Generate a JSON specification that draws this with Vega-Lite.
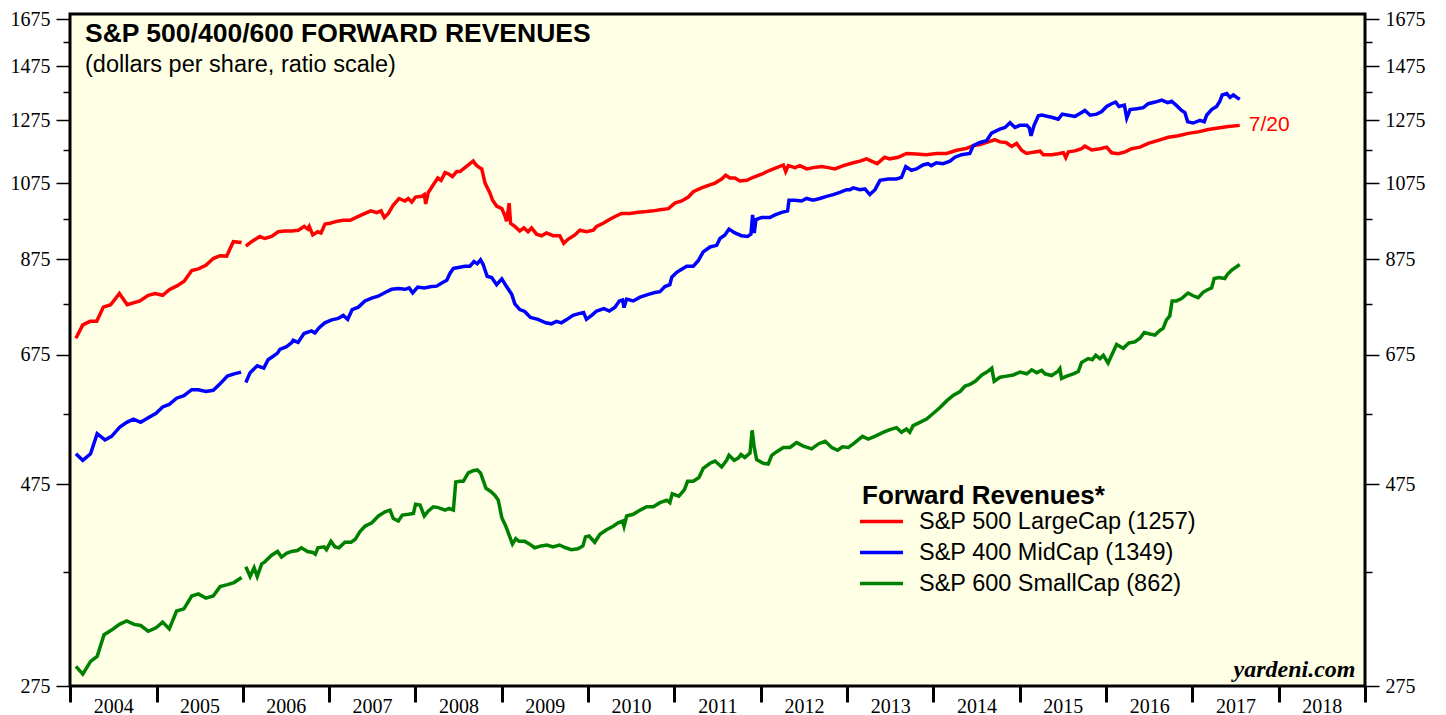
{
  "$schema": "https://vega.github.io/schema/vega-lite/v6.json",
  "width": 1295,
  "height": 672,
  "autosize": {"type": "none"},
  "padding": {"left": 70, "top": 14, "right": 81, "bottom": 29},
  "background": "white",
  "title": {
    "text": "S&P 500/400/600 FORWARD REVENUES",
    "subtitle": "(dollars per share, ratio scale)",
    "anchor": "start", "frame": "group", "orient": "top", "offset": -67, "dx": 15,
    "font": "Liberation Sans", "fontSize": 26.5, "fontWeight": "bold", "color": "black",
    "subtitleFont": "Liberation Sans", "subtitleFontSize": 23.5, "subtitleColor": "black", "subtitlePadding": 5
  },
  "datasets": {
    "revenues": [
      {"date":"2004-01-26","series":"500","value":706},{"date":"2004-02-24","series":"500","value":732},{"date":"2004-03-26","series":"500","value":739},{"date":"2004-04-23","series":"500","value":739},{"date":"2004-05-21","series":"500","value":768},{"date":"2004-06-21","series":"500","value":773},{"date":"2004-07-28","series":"500","value":797},{"date":"2004-08-30","series":"500","value":773},{"date":"2004-10-23","series":"500","value":781},{"date":"2004-11-27","series":"500","value":793},{"date":"2004-12-26","series":"500","value":797},{"date":"2005-01-27","series":"500","value":793},{"date":"2005-02-24","series":"500","value":805},{"date":"2005-03-30","series":"500","value":814},{"date":"2005-04-28","series":"500","value":824},{"date":"2005-05-30","series":"500","value":848},{"date":"2005-06-27","series":"500","value":852},{"date":"2005-07-29","series":"500","value":860},{"date":"2005-08-29","series":"500","value":876},{"date":"2005-09-27","series":"500","value":883},{"date":"2005-10-25","series":"500","value":882},{"date":"2005-11-22","series":"500","value":917},{"date":"2005-12-27","series":"500","value":915},
      {"date":"2006-01-05","series":"500","value":null},
      {"date":"2006-01-14","series":"500","value":906},{"date":"2006-02-07","series":"500","value":917},{"date":"2006-03-14","series":"500","value":930},{"date":"2006-04-04","series":"500","value":925},{"date":"2006-05-03","series":"500","value":930},{"date":"2006-05-31","series":"500","value":942},{"date":"2006-06-29","series":"500","value":944},{"date":"2006-07-27","series":"500","value":944},{"date":"2006-08-24","series":"500","value":946},{"date":"2006-09-18","series":"500","value":956},{"date":"2006-10-03","series":"500","value":949},{"date":"2006-10-09","series":"500","value":956},{"date":"2006-10-24","series":"500","value":934},{"date":"2006-11-14","series":"500","value":942},{"date":"2006-11-28","series":"500","value":939},{"date":"2006-12-15","series":"500","value":962},
      {"date":"2007-01-05","series":"500","value":964},{"date":"2007-02-02","series":"500","value":969},{"date":"2007-03-02","series":"500","value":972},{"date":"2007-03-31","series":"500","value":972},{"date":"2007-05-05","series":"500","value":982},{"date":"2007-06-02","series":"500","value":990},{"date":"2007-06-27","series":"500","value":997},{"date":"2007-07-22","series":"500","value":992},{"date":"2007-08-09","series":"500","value":997},{"date":"2007-08-23","series":"500","value":979},{"date":"2007-09-09","series":"500","value":990},{"date":"2007-09-30","series":"500","value":1013},{"date":"2007-10-24","series":"500","value":1031},{"date":"2007-11-18","series":"500","value":1024},{"date":"2007-12-02","series":"500","value":1031},{"date":"2007-12-17","series":"500","value":1021},
      {"date":"2008-01-02","series":"500","value":1035},{"date":"2008-01-28","series":"500","value":1037},{"date":"2008-02-08","series":"500","value":1042},{"date":"2008-02-14","series":"500","value":1016},{"date":"2008-02-25","series":"500","value":1048},{"date":"2008-03-17","series":"500","value":1070},{"date":"2008-04-05","series":"500","value":1090},{"date":"2008-04-19","series":"500","value":1083},{"date":"2008-05-06","series":"500","value":1106},{"date":"2008-05-23","series":"500","value":1101},{"date":"2008-06-06","series":"500","value":1094},{"date":"2008-06-24","series":"500","value":1109},{"date":"2008-07-08","series":"500","value":1109},{"date":"2008-07-29","series":"500","value":1121},{"date":"2008-08-19","series":"500","value":1133},{"date":"2008-09-02","series":"500","value":1141},{"date":"2008-09-14","series":"500","value":1129},{"date":"2008-09-28","series":"500","value":1121},{"date":"2008-10-08","series":"500","value":1117},{"date":"2008-10-22","series":"500","value":1075},{"date":"2008-11-12","series":"500","value":1046},{"date":"2008-11-23","series":"500","value":1026},{"date":"2008-12-10","series":"500","value":1010},
      {"date":"2009-01-01","series":"500","value":1003},{"date":"2009-01-14","series":"500","value":984},{"date":"2009-01-21","series":"500","value":969},{"date":"2009-02-01","series":"500","value":1018},{"date":"2009-02-07","series":"500","value":964},{"date":"2009-02-25","series":"500","value":956},{"date":"2009-03-18","series":"500","value":944},{"date":"2009-04-04","series":"500","value":952},{"date":"2009-04-22","series":"500","value":942},{"date":"2009-05-07","series":"500","value":952},{"date":"2009-05-28","series":"500","value":936},{"date":"2009-06-18","series":"500","value":932},{"date":"2009-07-09","series":"500","value":939},{"date":"2009-08-06","series":"500","value":932},{"date":"2009-09-03","series":"500","value":932},{"date":"2009-09-20","series":"500","value":913},{"date":"2009-10-08","series":"500","value":923},{"date":"2009-11-06","series":"500","value":934},{"date":"2009-11-27","series":"500","value":946},{"date":"2009-12-25","series":"500","value":942},
      {"date":"2010-01-23","series":"500","value":946},{"date":"2010-02-06","series":"500","value":956},{"date":"2010-03-06","series":"500","value":964},{"date":"2010-03-27","series":"500","value":972},{"date":"2010-04-25","series":"500","value":982},{"date":"2010-05-23","series":"500","value":990},{"date":"2010-06-27","series":"500","value":990},{"date":"2010-08-01","series":"500","value":993},{"date":"2010-09-06","series":"500","value":995},{"date":"2010-10-04","series":"500","value":997},{"date":"2010-11-01","series":"500","value":1000},{"date":"2010-12-07","series":"500","value":1003},
      {"date":"2011-01-03","series":"500","value":1018},{"date":"2011-02-01","series":"500","value":1024},{"date":"2011-03-01","series":"500","value":1035},{"date":"2011-03-22","series":"500","value":1050},{"date":"2011-04-26","series":"500","value":1061},{"date":"2011-05-31","series":"500","value":1070},{"date":"2011-06-22","series":"500","value":1075},{"date":"2011-07-20","series":"500","value":1087},{"date":"2011-08-06","series":"500","value":1098},{"date":"2011-08-24","series":"500","value":1090},{"date":"2011-09-14","series":"500","value":1090},{"date":"2011-10-05","series":"500","value":1081},{"date":"2011-11-03","series":"500","value":1083},{"date":"2011-12-01","series":"500","value":1092},
      {"date":"2012-01-05","series":"500","value":1101},{"date":"2012-02-09","series":"500","value":1113},{"date":"2012-03-09","series":"500","value":1121},{"date":"2012-04-06","series":"500","value":1129},{"date":"2012-04-16","series":"500","value":1109},{"date":"2012-04-27","series":"500","value":1127},{"date":"2012-05-25","series":"500","value":1121},{"date":"2012-06-15","series":"500","value":1127},{"date":"2012-07-14","series":"500","value":1117},{"date":"2012-08-11","series":"500","value":1121},{"date":"2012-09-15","series":"500","value":1124},{"date":"2012-10-13","series":"500","value":1121},{"date":"2012-11-10","series":"500","value":1117},{"date":"2012-12-16","series":"500","value":1127},
      {"date":"2013-01-27","series":"500","value":1136},{"date":"2013-02-24","series":"500","value":1141},{"date":"2013-03-24","series":"500","value":1148},{"date":"2013-04-14","series":"500","value":1141},{"date":"2013-05-08","series":"500","value":1133},{"date":"2013-06-09","series":"500","value":1153},{"date":"2013-06-30","series":"500","value":1148},{"date":"2013-08-05","series":"500","value":1153},{"date":"2013-09-09","series":"500","value":1165},{"date":"2013-10-21","series":"500","value":1163},{"date":"2013-12-02","series":"500","value":1161},
      {"date":"2014-01-14","series":"500","value":1165},{"date":"2014-02-26","series":"500","value":1165},{"date":"2014-04-09","series":"500","value":1175},{"date":"2014-05-21","series":"500","value":1181},{"date":"2014-06-19","series":"500","value":1190},{"date":"2014-07-17","series":"500","value":1193},{"date":"2014-08-21","series":"500","value":1202},{"date":"2014-09-18","series":"500","value":1209},{"date":"2014-10-09","series":"500","value":1202},{"date":"2014-11-04","series":"500","value":1200},{"date":"2014-11-28","series":"500","value":1187},{"date":"2014-12-19","series":"500","value":1197},
      {"date":"2015-01-09","series":"500","value":1175},{"date":"2015-01-30","series":"500","value":1165},{"date":"2015-02-28","series":"500","value":1169},{"date":"2015-03-28","series":"500","value":1172},{"date":"2015-04-11","series":"500","value":1161},{"date":"2015-05-16","series":"500","value":1161},{"date":"2015-06-13","series":"500","value":1164},{"date":"2015-07-05","series":"500","value":1167},{"date":"2015-07-15","series":"500","value":1152},{"date":"2015-07-26","series":"500","value":1170},{"date":"2015-08-23","series":"500","value":1173},{"date":"2015-09-20","series":"500","value":1180},{"date":"2015-10-04","series":"500","value":1188},{"date":"2015-11-02","series":"500","value":1176},{"date":"2015-12-07","series":"500","value":1180},
      {"date":"2016-01-04","series":"500","value":1185},{"date":"2016-01-25","series":"500","value":1167},{"date":"2016-02-22","series":"500","value":1164},{"date":"2016-03-22","series":"500","value":1170},{"date":"2016-04-19","series":"500","value":1180},{"date":"2016-05-24","series":"500","value":1185},{"date":"2016-06-28","series":"500","value":1197},{"date":"2016-08-09","series":"500","value":1207},{"date":"2016-09-21","series":"500","value":1217},{"date":"2016-11-02","series":"500","value":1222},{"date":"2016-12-14","series":"500","value":1230},
      {"date":"2017-01-25","series":"500","value":1235},{"date":"2017-03-09","series":"500","value":1243},{"date":"2017-04-20","series":"500","value":1248},{"date":"2017-06-02","series":"500","value":1253},{"date":"2017-07-20","series":"500","value":1257},

      {"date":"2004-01-26","series":"400","value":516},{"date":"2004-02-24","series":"400","value":507},{"date":"2004-03-28","series":"400","value":516},{"date":"2004-04-25","series":"400","value":545},{"date":"2004-05-28","series":"400","value":536},{"date":"2004-06-25","series":"400","value":541},{"date":"2004-07-30","series":"400","value":555},{"date":"2004-08-28","series":"400","value":562},{"date":"2004-09-25","series":"400","value":567},{"date":"2004-10-26","series":"400","value":562},{"date":"2004-11-27","series":"400","value":569},{"date":"2004-12-30","series":"400","value":576},{"date":"2005-01-27","series":"400","value":586},{"date":"2005-02-24","series":"400","value":590},{"date":"2005-03-27","series":"400","value":600},{"date":"2005-04-27","series":"400","value":604},{"date":"2005-05-30","series":"400","value":614},{"date":"2005-06-27","series":"400","value":614},{"date":"2005-07-29","series":"400","value":611},{"date":"2005-08-29","series":"400","value":613},{"date":"2005-09-27","series":"400","value":624},{"date":"2005-10-28","series":"400","value":637},{"date":"2005-11-25","series":"400","value":641},{"date":"2005-12-25","series":"400","value":644},
      {"date":"2006-01-05","series":"400","value":null},
      {"date":"2006-01-14","series":"400","value":626},{"date":"2006-02-01","series":"400","value":643},{"date":"2006-03-03","series":"400","value":655},{"date":"2006-03-31","series":"400","value":651},{"date":"2006-04-18","series":"400","value":666},{"date":"2006-05-05","series":"400","value":671},{"date":"2006-05-28","series":"400","value":678},{"date":"2006-06-07","series":"400","value":685},{"date":"2006-07-05","series":"400","value":690},{"date":"2006-07-26","series":"400","value":697},{"date":"2006-08-02","series":"400","value":702},{"date":"2006-08-23","series":"400","value":698},{"date":"2006-09-17","series":"400","value":715},{"date":"2006-10-19","series":"400","value":720},{"date":"2006-11-02","series":"400","value":716},{"date":"2006-11-19","series":"400","value":726},{"date":"2006-12-14","series":"400","value":736},
      {"date":"2007-01-12","series":"400","value":742},{"date":"2007-02-09","series":"400","value":745},{"date":"2007-03-02","series":"400","value":751},{"date":"2007-03-21","series":"400","value":743},{"date":"2007-04-09","series":"400","value":763},{"date":"2007-05-05","series":"400","value":768},{"date":"2007-06-02","series":"400","value":781},{"date":"2007-06-30","series":"400","value":787},{"date":"2007-07-28","series":"400","value":791},{"date":"2007-08-26","series":"400","value":799},{"date":"2007-09-23","series":"400","value":806},{"date":"2007-10-21","series":"400","value":808},{"date":"2007-11-19","series":"400","value":806},{"date":"2007-12-06","series":"400","value":809},{"date":"2007-12-21","series":"400","value":798},
      {"date":"2008-01-11","series":"400","value":811},{"date":"2008-02-08","series":"400","value":809},{"date":"2008-03-10","series":"400","value":812},{"date":"2008-03-31","series":"400","value":813},{"date":"2008-04-22","series":"400","value":820},{"date":"2008-05-13","series":"400","value":826},{"date":"2008-05-27","series":"400","value":842},{"date":"2008-06-10","series":"400","value":853},{"date":"2008-07-01","series":"400","value":855},{"date":"2008-07-29","series":"400","value":858},{"date":"2008-08-19","series":"400","value":858},{"date":"2008-09-05","series":"400","value":869},{"date":"2008-09-19","series":"400","value":864},{"date":"2008-10-03","series":"400","value":873},{"date":"2008-10-14","series":"400","value":862},{"date":"2008-10-31","series":"400","value":835},{"date":"2008-11-19","series":"400","value":832},{"date":"2008-12-10","series":"400","value":816},
      {"date":"2009-01-01","series":"400","value":829},{"date":"2009-01-21","series":"400","value":812},{"date":"2009-02-12","series":"400","value":795},{"date":"2009-02-25","series":"400","value":775},{"date":"2009-03-18","series":"400","value":763},{"date":"2009-04-08","series":"400","value":759},{"date":"2009-05-02","series":"400","value":747},{"date":"2009-06-03","series":"400","value":743},{"date":"2009-07-06","series":"400","value":736},{"date":"2009-07-30","series":"400","value":734},{"date":"2009-08-20","series":"400","value":739},{"date":"2009-09-10","series":"400","value":736},{"date":"2009-10-04","series":"400","value":743},{"date":"2009-10-29","series":"400","value":751},{"date":"2009-11-27","series":"400","value":755},{"date":"2009-12-13","series":"400","value":757},{"date":"2009-12-25","series":"400","value":743},
      {"date":"2010-01-16","series":"400","value":751},{"date":"2010-02-06","series":"400","value":760},{"date":"2010-03-09","series":"400","value":765},{"date":"2010-04-01","series":"400","value":760},{"date":"2010-04-25","series":"400","value":768},{"date":"2010-05-13","series":"400","value":781},{"date":"2010-05-27","series":"400","value":783},{"date":"2010-06-02","series":"400","value":767},{"date":"2010-06-13","series":"400","value":785},{"date":"2010-07-11","series":"400","value":781},{"date":"2010-08-09","series":"400","value":789},{"date":"2010-09-13","series":"400","value":795},{"date":"2010-10-11","series":"400","value":799},{"date":"2010-11-01","series":"400","value":801},{"date":"2010-11-22","series":"400","value":812},{"date":"2010-12-13","series":"400","value":816},{"date":"2010-12-21","series":"400","value":833},
      {"date":"2011-01-11","series":"400","value":844},{"date":"2011-02-01","series":"400","value":851},{"date":"2011-02-22","series":"400","value":858},{"date":"2011-03-22","series":"400","value":858},{"date":"2011-04-12","series":"400","value":871},{"date":"2011-05-03","series":"400","value":892},{"date":"2011-06-01","series":"400","value":904},{"date":"2011-06-29","series":"400","value":908},{"date":"2011-07-13","series":"400","value":925},{"date":"2011-08-03","series":"400","value":934},{"date":"2011-08-20","series":"400","value":949},{"date":"2011-09-14","series":"400","value":939},{"date":"2011-10-12","series":"400","value":932},{"date":"2011-11-07","series":"400","value":930},{"date":"2011-11-21","series":"400","value":936},{"date":"2011-11-28","series":"400","value":986},{"date":"2011-12-05","series":"400","value":939},{"date":"2011-12-12","series":"400","value":974},
      {"date":"2012-01-05","series":"400","value":979},{"date":"2012-02-09","series":"400","value":979},{"date":"2012-03-02","series":"400","value":986},{"date":"2012-03-30","series":"400","value":993},{"date":"2012-04-24","series":"400","value":997},{"date":"2012-04-30","series":"400","value":1026},{"date":"2012-05-25","series":"400","value":1026},{"date":"2012-06-22","series":"400","value":1024},{"date":"2012-07-13","series":"400","value":1031},{"date":"2012-08-10","series":"400","value":1026},{"date":"2012-09-07","series":"400","value":1031},{"date":"2012-10-06","series":"400","value":1037},{"date":"2012-11-03","series":"400","value":1042},{"date":"2012-12-01","series":"400","value":1048},{"date":"2012-12-30","series":"400","value":1056},
      {"date":"2013-01-13","series":"400","value":1056},{"date":"2013-01-27","series":"400","value":1061},{"date":"2013-02-24","series":"400","value":1056},{"date":"2013-03-17","series":"400","value":1058},{"date":"2013-04-07","series":"400","value":1042},{"date":"2013-04-29","series":"400","value":1056},{"date":"2013-05-20","series":"400","value":1083},{"date":"2013-06-24","series":"400","value":1087},{"date":"2013-07-29","series":"400","value":1087},{"date":"2013-08-19","series":"400","value":1092},{"date":"2013-09-06","series":"400","value":1124},{"date":"2013-09-30","series":"400","value":1113},{"date":"2013-10-21","series":"400","value":1117},{"date":"2013-11-18","series":"400","value":1129},{"date":"2013-12-09","series":"400","value":1133},{"date":"2013-12-23","series":"400","value":1127},
      {"date":"2014-01-14","series":"400","value":1136},{"date":"2014-02-11","series":"400","value":1133},{"date":"2014-03-12","series":"400","value":1141},{"date":"2014-04-02","series":"400","value":1153},{"date":"2014-04-30","series":"400","value":1161},{"date":"2014-06-04","series":"400","value":1165},{"date":"2014-06-19","series":"400","value":1190},{"date":"2014-07-17","series":"400","value":1200},{"date":"2014-08-14","series":"400","value":1206},{"date":"2014-09-04","series":"400","value":1231},{"date":"2014-10-09","series":"400","value":1244},{"date":"2014-10-31","series":"400","value":1250},{"date":"2014-11-21","series":"400","value":1266},{"date":"2014-12-12","series":"400","value":1250},
      {"date":"2015-01-02","series":"400","value":1257},{"date":"2015-01-31","series":"400","value":1257},{"date":"2015-02-11","series":"400","value":1248},{"date":"2015-02-18","series":"400","value":1222},{"date":"2015-03-03","series":"400","value":1257},{"date":"2015-03-21","series":"400","value":1290},{"date":"2015-04-04","series":"400","value":1293},{"date":"2015-05-16","series":"400","value":1285},{"date":"2015-06-13","series":"400","value":1278},{"date":"2015-06-30","series":"400","value":1296},{"date":"2015-07-26","series":"400","value":1292},{"date":"2015-08-23","series":"400","value":1288},{"date":"2015-09-13","series":"400","value":1298},{"date":"2015-10-04","series":"400","value":1309},{"date":"2015-10-26","series":"400","value":1292},{"date":"2015-11-23","series":"400","value":1296},{"date":"2015-12-14","series":"400","value":1305},
      {"date":"2016-01-04","series":"400","value":1323},{"date":"2016-01-25","series":"400","value":1333},{"date":"2016-02-11","series":"400","value":1339},{"date":"2016-02-25","series":"400","value":1323},{"date":"2016-03-19","series":"400","value":1328},{"date":"2016-03-29","series":"400","value":1282},{"date":"2016-04-12","series":"400","value":1312},{"date":"2016-05-10","series":"400","value":1315},{"date":"2016-06-07","series":"400","value":1319},{"date":"2016-06-28","series":"400","value":1333},{"date":"2016-07-27","series":"400","value":1339},{"date":"2016-08-24","series":"400","value":1346},{"date":"2016-09-18","series":"400","value":1337},{"date":"2016-10-05","series":"400","value":1342},{"date":"2016-10-26","series":"400","value":1326},{"date":"2016-11-16","series":"400","value":1309},{"date":"2016-11-30","series":"400","value":1301},{"date":"2016-12-12","series":"400","value":1269},
      {"date":"2017-01-04","series":"400","value":1265},{"date":"2017-02-02","series":"400","value":1274},{"date":"2017-02-20","series":"400","value":1269},{"date":"2017-03-02","series":"400","value":1292},{"date":"2017-03-23","series":"400","value":1312},{"date":"2017-04-13","series":"400","value":1323},{"date":"2017-04-27","series":"400","value":1342},{"date":"2017-05-07","series":"400","value":1365},{"date":"2017-05-26","series":"400","value":1370},{"date":"2017-06-09","series":"400","value":1356},{"date":"2017-06-23","series":"400","value":1365},{"date":"2017-07-07","series":"400","value":1356},{"date":"2017-07-20","series":"400","value":1349},

      {"date":"2004-01-26","series":"600","value":290},{"date":"2004-02-24","series":"600","value":284},{"date":"2004-03-28","series":"600","value":294},{"date":"2004-04-25","series":"600","value":298},{"date":"2004-05-24","series":"600","value":316},{"date":"2004-06-25","series":"600","value":320},{"date":"2004-07-28","series":"600","value":325},{"date":"2004-08-28","series":"600","value":328},{"date":"2004-09-28","series":"600","value":325},{"date":"2004-10-26","series":"600","value":324},{"date":"2004-11-27","series":"600","value":319},{"date":"2004-12-30","series":"600","value":322},{"date":"2005-01-27","series":"600","value":327},{"date":"2005-02-24","series":"600","value":321},{"date":"2005-03-27","series":"600","value":337},{"date":"2005-04-27","series":"600","value":339},{"date":"2005-05-30","series":"600","value":351},{"date":"2005-06-27","series":"600","value":353},{"date":"2005-07-29","series":"600","value":349},{"date":"2005-08-29","series":"600","value":351},{"date":"2005-09-27","series":"600","value":360},{"date":"2005-10-28","series":"600","value":362},{"date":"2005-11-25","series":"600","value":364},{"date":"2005-12-27","series":"600","value":369},
      {"date":"2006-01-05","series":"600","value":null},
      {"date":"2006-01-14","series":"600","value":380},{"date":"2006-02-01","series":"600","value":370},{"date":"2006-02-18","series":"600","value":379},{"date":"2006-03-03","series":"600","value":370},{"date":"2006-03-22","series":"600","value":383},{"date":"2006-04-04","series":"600","value":385},{"date":"2006-05-03","series":"600","value":392},{"date":"2006-05-28","series":"600","value":396},{"date":"2006-06-14","series":"600","value":390},{"date":"2006-07-05","series":"600","value":394},{"date":"2006-07-26","series":"600","value":396},{"date":"2006-08-20","series":"600","value":397},{"date":"2006-09-06","series":"600","value":400},{"date":"2006-10-02","series":"600","value":396},{"date":"2006-10-25","series":"600","value":395},{"date":"2006-11-04","series":"600","value":393},{"date":"2006-11-15","series":"600","value":400},{"date":"2006-12-11","series":"600","value":401},{"date":"2006-12-21","series":"600","value":398},
      {"date":"2007-01-09","series":"600","value":407},{"date":"2007-01-26","series":"600","value":401},{"date":"2007-02-12","series":"600","value":400},{"date":"2007-03-09","series":"600","value":406},{"date":"2007-04-04","series":"600","value":406},{"date":"2007-04-21","series":"600","value":409},{"date":"2007-05-12","series":"600","value":418},{"date":"2007-06-02","series":"600","value":424},{"date":"2007-07-01","series":"600","value":428},{"date":"2007-07-29","series":"600","value":436},{"date":"2007-08-26","series":"600","value":441},{"date":"2007-09-16","series":"600","value":443},{"date":"2007-09-30","series":"600","value":433},{"date":"2007-10-21","series":"600","value":430},{"date":"2007-11-07","series":"600","value":437},{"date":"2007-12-03","series":"600","value":438},{"date":"2007-12-24","series":"600","value":439},
      {"date":"2008-01-02","series":"600","value":450},{"date":"2008-01-21","series":"600","value":449},{"date":"2008-02-08","series":"600","value":436},{"date":"2008-02-25","series":"600","value":442},{"date":"2008-03-17","series":"600","value":447},{"date":"2008-04-07","series":"600","value":446},{"date":"2008-05-06","series":"600","value":443},{"date":"2008-05-23","series":"600","value":445},{"date":"2008-06-10","series":"600","value":443},{"date":"2008-06-20","series":"600","value":478},{"date":"2008-07-08","series":"600","value":479},{"date":"2008-07-22","series":"600","value":479},{"date":"2008-08-12","series":"600","value":490},{"date":"2008-09-02","series":"600","value":493},{"date":"2008-09-19","series":"600","value":494},{"date":"2008-10-03","series":"600","value":490},{"date":"2008-10-26","series":"600","value":470},{"date":"2008-11-15","series":"600","value":466},{"date":"2008-12-03","series":"600","value":461},{"date":"2008-12-17","series":"600","value":455},
      {"date":"2009-01-01","series":"600","value":434},{"date":"2009-01-18","series":"600","value":424},{"date":"2009-02-01","series":"600","value":414},{"date":"2009-02-15","series":"600","value":404},{"date":"2009-03-01","series":"600","value":410},{"date":"2009-03-15","series":"600","value":407},{"date":"2009-04-08","series":"600","value":407},{"date":"2009-04-29","series":"600","value":404},{"date":"2009-05-20","series":"600","value":400},{"date":"2009-06-17","series":"600","value":402},{"date":"2009-07-11","series":"600","value":403},{"date":"2009-08-05","series":"600","value":401},{"date":"2009-09-02","series":"600","value":403},{"date":"2009-09-28","series":"600","value":400},{"date":"2009-10-22","series":"600","value":398},{"date":"2009-11-19","series":"600","value":399},{"date":"2009-12-10","series":"600","value":402},{"date":"2009-12-21","series":"600","value":412},
      {"date":"2010-01-05","series":"600","value":413},{"date":"2010-01-29","series":"600","value":406},{"date":"2010-02-20","series":"600","value":415},{"date":"2010-03-20","series":"600","value":420},{"date":"2010-04-17","series":"600","value":424},{"date":"2010-05-08","series":"600","value":428},{"date":"2010-05-27","series":"600","value":430},{"date":"2010-06-02","series":"600","value":424},{"date":"2010-06-13","series":"600","value":436},{"date":"2010-07-11","series":"600","value":438},{"date":"2010-08-09","series":"600","value":443},{"date":"2010-09-06","series":"600","value":447},{"date":"2010-10-04","series":"600","value":447},{"date":"2010-11-01","series":"600","value":452},{"date":"2010-11-30","series":"600","value":455},{"date":"2010-12-13","series":"600","value":452},{"date":"2010-12-23","series":"600","value":463},
      {"date":"2011-01-20","series":"600","value":460},{"date":"2011-02-12","series":"600","value":468},{"date":"2011-02-26","series":"600","value":479},{"date":"2011-03-22","series":"600","value":479},{"date":"2011-04-15","series":"600","value":484},{"date":"2011-05-03","series":"600","value":496},{"date":"2011-06-01","series":"600","value":503},{"date":"2011-06-22","series":"600","value":506},{"date":"2011-07-20","series":"600","value":498},{"date":"2011-08-10","series":"600","value":507},{"date":"2011-08-20","series":"600","value":514},{"date":"2011-09-11","series":"600","value":507},{"date":"2011-09-28","series":"600","value":510},{"date":"2011-10-10","series":"600","value":515},{"date":"2011-10-26","series":"600","value":511},{"date":"2011-11-17","series":"600","value":517},{"date":"2011-11-26","series":"600","value":550},{"date":"2011-12-05","series":"600","value":525},{"date":"2011-12-15","series":"600","value":508},
      {"date":"2012-01-12","series":"600","value":503},{"date":"2012-02-02","series":"600","value":502},{"date":"2012-02-17","series":"600","value":514},{"date":"2012-03-09","series":"600","value":519},{"date":"2012-04-06","series":"600","value":525},{"date":"2012-05-04","series":"600","value":525},{"date":"2012-06-01","series":"600","value":532},{"date":"2012-06-30","series":"600","value":527},{"date":"2012-08-04","series":"600","value":523},{"date":"2012-09-01","series":"600","value":530},{"date":"2012-09-30","series":"600","value":534},{"date":"2012-10-28","series":"600","value":525},{"date":"2012-11-22","series":"600","value":521},{"date":"2012-12-12","series":"600","value":526},
      {"date":"2013-01-06","series":"600","value":525},{"date":"2013-01-27","series":"600","value":530},{"date":"2013-03-07","series":"600","value":541},{"date":"2013-03-31","series":"600","value":537},{"date":"2013-04-28","series":"600","value":541},{"date":"2013-06-02","series":"600","value":547},{"date":"2013-07-01","series":"600","value":551},{"date":"2013-07-29","series":"600","value":554},{"date":"2013-08-19","series":"600","value":547},{"date":"2013-09-09","series":"600","value":552},{"date":"2013-09-23","series":"600","value":547},{"date":"2013-10-07","series":"600","value":557},{"date":"2013-11-05","series":"600","value":562},{"date":"2013-12-03","series":"600","value":567},
      {"date":"2014-01-01","series":"600","value":576},{"date":"2014-01-29","series":"600","value":585},{"date":"2014-02-27","series":"600","value":596},{"date":"2014-03-27","series":"600","value":605},{"date":"2014-04-24","series":"600","value":611},{"date":"2014-05-15","series":"600","value":620},{"date":"2014-06-05","series":"600","value":623},{"date":"2014-06-27","series":"600","value":628},{"date":"2014-07-25","series":"600","value":639},{"date":"2014-08-15","series":"600","value":644},{"date":"2014-09-05","series":"600","value":651},{"date":"2014-09-15","series":"600","value":628},{"date":"2014-10-10","series":"600","value":635},{"date":"2014-11-07","series":"600","value":637},{"date":"2014-12-05","series":"600","value":639},
      {"date":"2015-01-02","series":"600","value":644},{"date":"2015-01-31","series":"600","value":641},{"date":"2015-02-21","series":"600","value":648},{"date":"2015-03-14","series":"600","value":643},{"date":"2015-04-04","series":"600","value":647},{"date":"2015-04-18","series":"600","value":641},{"date":"2015-05-16","series":"600","value":638},{"date":"2015-06-11","series":"600","value":645},{"date":"2015-06-20","series":"600","value":650},{"date":"2015-06-27","series":"600","value":633},{"date":"2015-07-19","series":"600","value":637},{"date":"2015-08-16","series":"600","value":641},{"date":"2015-09-06","series":"600","value":645},{"date":"2015-09-20","series":"600","value":661},{"date":"2015-10-18","series":"600","value":668},{"date":"2015-11-04","series":"600","value":666},{"date":"2015-11-19","series":"600","value":674},{"date":"2015-12-07","series":"600","value":668},{"date":"2015-12-21","series":"600","value":674},
      {"date":"2016-01-10","series":"600","value":660},{"date":"2016-01-25","series":"600","value":674},{"date":"2016-02-15","series":"600","value":694},{"date":"2016-03-14","series":"600","value":687},{"date":"2016-04-07","series":"600","value":697},{"date":"2016-05-02","series":"600","value":699},{"date":"2016-05-24","series":"600","value":706},{"date":"2016-06-11","series":"600","value":717},{"date":"2016-07-05","series":"600","value":714},{"date":"2016-07-26","series":"600","value":712},{"date":"2016-08-16","series":"600","value":721},{"date":"2016-08-30","series":"600","value":725},{"date":"2016-09-13","series":"600","value":742},{"date":"2016-09-27","series":"600","value":750},{"date":"2016-10-07","series":"600","value":781},{"date":"2016-10-25","series":"600","value":781},{"date":"2016-11-16","series":"600","value":786},{"date":"2016-12-13","series":"600","value":798},
      {"date":"2017-01-04","series":"600","value":792},{"date":"2017-01-25","series":"600","value":788},{"date":"2017-02-16","series":"600","value":800},{"date":"2017-03-06","series":"600","value":805},{"date":"2017-03-23","series":"600","value":809},{"date":"2017-04-03","series":"600","value":830},{"date":"2017-04-23","series":"600","value":832},{"date":"2017-05-18","series":"600","value":830},{"date":"2017-05-30","series":"600","value":840},{"date":"2017-06-16","series":"600","value":849},{"date":"2017-07-20","series":"600","value":862}
    ],
    "latest": [{"date": "2017-07-20", "series": "500", "value": 1257, "label": "7/20"}]
  },
  "layer": [
    {
      "data": {"name": "revenues"},
      "transform": [{"filter": "datum.series === '500'"}],
      "mark": {"type": "line", "strokeWidth": 3.5},
      "encoding": {
        "x": {"field": "date", "type": "temporal",
          "scale": {"type": "utc", "nice": false, "domain": [{"year": 2004, "month": 1, "date": 1, "utc": true}, {"year": 2019, "month": 1, "date": 1, "utc": true}]},
          "axis": {"orient": "bottom", "labels": false, "tickSize": 16, "tickWidth": 3, "tickColor": "black", "domain": false, "grid": false, "title": null,
            "values": [{"year":2004,"month":1,"date":1,"utc":true},{"year":2005,"month":1,"date":1,"utc":true},{"year":2006,"month":1,"date":1,"utc":true},{"year":2007,"month":1,"date":1,"utc":true},{"year":2008,"month":1,"date":1,"utc":true},{"year":2009,"month":1,"date":1,"utc":true},{"year":2010,"month":1,"date":1,"utc":true},{"year":2011,"month":1,"date":1,"utc":true},{"year":2012,"month":1,"date":1,"utc":true},{"year":2013,"month":1,"date":1,"utc":true},{"year":2014,"month":1,"date":1,"utc":true},{"year":2015,"month":1,"date":1,"utc":true},{"year":2016,"month":1,"date":1,"utc":true},{"year":2017,"month":1,"date":1,"utc":true},{"year":2018,"month":1,"date":1,"utc":true},{"year":2019,"month":1,"date":1,"utc":true}]}},
        "y": {"field": "value", "type": "quantitative",
          "scale": {"type": "log", "domain": [275, 1700], "nice": false},
          "axis": {"orient": "left", "values": [275, 475, 675, 875, 1075, 1275, 1475, 1675], "format": "d", "tickSize": 14, "tickWidth": 1.5, "tickColor": "black", "labelFont": "Liberation Serif", "labelFontSize": 20, "labelColor": "black", "labelPadding": 6, "labelFlush": false, "labelOverlap": false, "domain": false, "grid": false, "title": null}},
        "color": {"field": "series", "type": "nominal",
          "scale": {"domain": ["500", "400", "600"], "range": ["#FF0000", "#0000FF", "#008000"]},
          "legend": {"orient": "none", "legendX": 792, "legendY": 469, "padding": 0, "title": "Forward Revenues*", "titleFont": "Liberation Sans", "titleFontSize": 26, "titleFontWeight": "bold", "titleColor": "black", "titleLimit": 600, "titlePadding": -7, "labelFont": "Liberation Sans", "labelFontSize": 23.5, "labelColor": "black", "labelLimit": 600, "labelOffset": 18, "symbolType": "M-1.23,0H1.23", "symbolStrokeWidth": 3.5, "symbolSize": 1225, "rowPadding": 0,
            "labelExpr": "datum.label == '500' ? 'S&P 500 LargeCap (1257)' : datum.label == '400' ? 'S&P 400 MidCap (1349)' : 'S&P 600 SmallCap (862)'"}}
      }
    },
    {
      "data": {"name": "revenues"},
      "transform": [{"filter": "datum.series === '400'"}],
      "mark": {"type": "line", "strokeWidth": 3.5},
      "encoding": {
        "x": {"field": "date", "type": "temporal", "axis": null},
        "y": {"field": "value", "type": "quantitative",
          "axis": {"orient": "left", "values": [375, 575, 775, 975, 1175, 1375, 1575], "labels": false, "tickSize": 7, "tickWidth": 1.5, "tickColor": "black", "domain": false, "grid": false, "title": null}},
        "color": {"field": "series", "type": "nominal"}
      }
    },
    {
      "data": {"name": "revenues"},
      "transform": [{"filter": "datum.series === '600'"}],
      "mark": {"type": "line", "strokeWidth": 3.5},
      "encoding": {
        "x": {"field": "date", "type": "temporal", "axis": null},
        "y": {"field": "value", "type": "quantitative",
          "axis": {"orient": "right", "values": [375, 575, 775, 975, 1175, 1375, 1575], "labels": false, "tickSize": 7, "tickWidth": 1.5, "tickColor": "black", "domain": false, "grid": false, "title": null}},
        "color": {"field": "series", "type": "nominal"}
      }
    },
    {
      "data": {"name": "latest"},
      "mark": {"type": "text", "align": "left", "baseline": "middle", "dx": 9, "font": "Liberation Sans", "fontSize": 21, "color": "#FF0000"},
      "encoding": {
        "x": {"field": "date", "type": "temporal",
          "axis": {"orient": "bottom", "format": "%Y", "ticks": false, "tickSize": 0, "domain": false, "grid": false, "labelFont": "Liberation Serif", "labelFontSize": 20, "labelColor": "black", "labelPadding": 10, "labelFlush": false, "labelOverlap": false,
            "values": [{"year":2004,"month":7,"date":2,"utc":true},{"year":2005,"month":7,"date":2,"utc":true},{"year":2006,"month":7,"date":2,"utc":true},{"year":2007,"month":7,"date":2,"utc":true},{"year":2008,"month":7,"date":2,"utc":true},{"year":2009,"month":7,"date":2,"utc":true},{"year":2010,"month":7,"date":2,"utc":true},{"year":2011,"month":7,"date":2,"utc":true},{"year":2012,"month":7,"date":2,"utc":true},{"year":2013,"month":7,"date":2,"utc":true},{"year":2014,"month":7,"date":2,"utc":true},{"year":2015,"month":7,"date":2,"utc":true},{"year":2016,"month":7,"date":2,"utc":true},{"year":2017,"month":7,"date":2,"utc":true},{"year":2018,"month":7,"date":2,"utc":true}],
            "title": "yardeni.com", "titleFont": "Liberation Serif", "titleFontSize": 24, "titleFontStyle": "italic", "titleFontWeight": "bold", "titleColor": "black", "titleAnchor": "end", "titleAlign": "right", "titleBaseline": "alphabetic", "titleX": 1285, "titleY": -10}},
        "y": {"field": "value", "type": "quantitative",
          "axis": {"orient": "right", "values": [275, 475, 675, 875, 1075, 1275, 1475, 1675], "format": "d", "tickSize": 14, "tickWidth": 1.5, "tickColor": "black", "labelFont": "Liberation Serif", "labelFontSize": 20, "labelColor": "black", "labelPadding": 6, "labelFlush": false, "labelOverlap": false, "domain": false, "grid": false, "title": null}},
        "text": {"field": "label"}
      }
    }
  ],
  "resolve": {"scale": {"x": "shared", "y": "shared", "color": "shared"}, "axis": {"x": "independent", "y": "independent"}},
  "config": {
    "view": {"fill": "#FFFFE6", "stroke": "black", "strokeWidth": 3}
  }
}
